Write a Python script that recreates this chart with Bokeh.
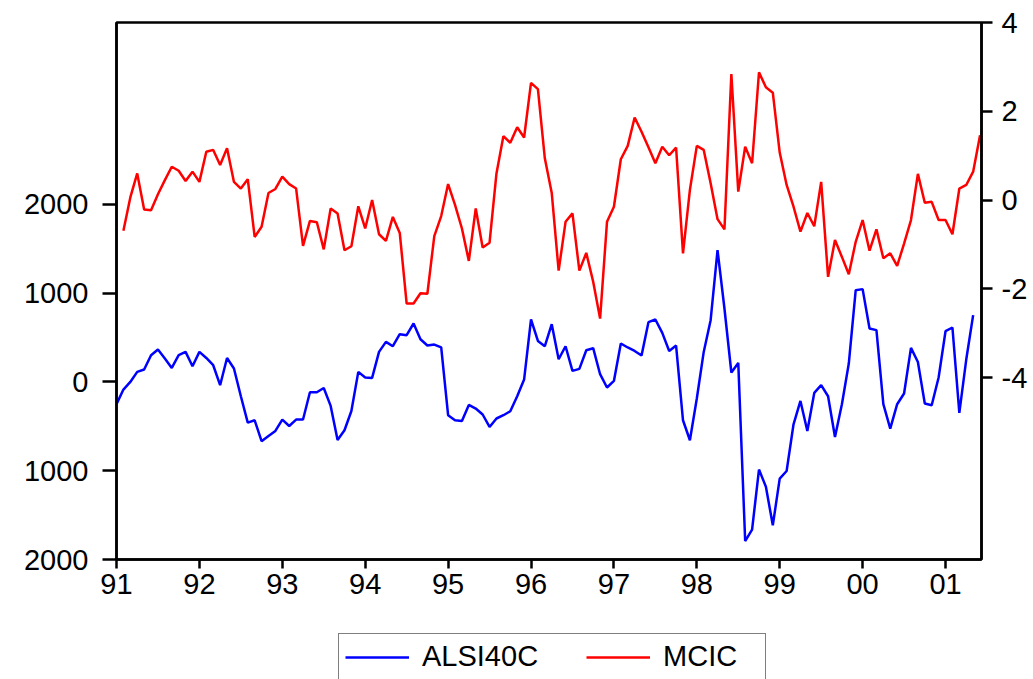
from bokeh.plotting import figure
from bokeh.models import Range1d, LinearAxis, FixedTicker, Legend, LegendItem
from bokeh.layouts import column
from bokeh.embed import file_html
from bokeh.resources import INLINE
import numpy as np

# ---- data (monthly) ----
alsi_start_month = 0     # Jan 1991
alsi40c = [
    -251, -86, 0, 113, 140, 301, 365, 264, 158, 301, 338, 177,
    338, 270, 188, -37, 270, 151, -161, -458, -432, -668, -608, -552,
    -424, -496, -424, -424, -116, -116, -68, -270, -653, -544, -327, 113,
    50, 45, 338, 451, 402, 538, 526, 658, 481, 410, 421, 388,
    -375, -432, -440, -259, -300, -367, -507, -412, -375, -330, -161, 27,
    703, 462, 402, 650, 255, 402, 124, 147, 357, 380, 87, -63,
    11, 433, 388, 349, 298, 673, 703, 552, 349, 410, -432, -657,
    -187, 338, 695, 1484, 827, 106, 214, -1792, -1663, -987, -1180, -1615,
    -1089, -1003, -477, -214, -552, -124, -37, -161, -620, -251, 207, 1033,
    1045, 602, 583, -251, -525, -251, -131, 383, 225, -243, -263, 50,
    571, 613, -349, 252, 752,
]
mcic_start_month = 1     # Feb 1991
mcic = [
    -0.69, 0.06, 0.60, -0.21, -0.23, 0.13, 0.45, 0.75, 0.66, 0.43, 0.64,
    0.41, 1.09, 1.13, 0.79, 1.17, 0.41, 0.26, 0.47, -0.83, -0.60, 0.16, 0.25,
    0.53, 0.36, 0.26, -1.03, -0.47, -0.50, -1.11, -0.19, -0.30, -1.13, -1.04, -0.14,
    -0.64, 0.00, -0.77, -0.92, -0.38, -0.74, -2.33, -2.33, -2.10, -2.11, -0.81, -0.36,
    0.36, -0.11, -0.64, -1.37, -0.19, -1.07, -0.96, 0.60, 1.44, 1.29, 1.64, 1.41,
    2.64, 2.50, 0.94, 0.16, -1.59, -0.49, -0.30, -1.59, -1.19, -1.84, -2.67, -0.49,
    -0.15, 0.92, 1.22, 1.86, 1.54, 1.19, 0.83, 1.20, 1.01, 1.18, -1.20, 0.23,
    1.22, 1.13, 0.38, -0.43, -0.66, 2.84, 0.19, 1.20, 0.83, 2.88, 2.54, 2.42,
    1.07, 0.34, -0.15, -0.71, -0.29, -0.59, 0.41, -1.73, -0.90, -1.28, -1.67, -0.94,
    -0.45, -1.14, -0.66, -1.31, -1.20, -1.48, -0.98, -0.45, 0.59, -0.06, -0.04, -0.45,
    -0.45, -0.77, 0.26, 0.34, 0.64, 1.46,
]
year_ticks = [1991, 1992, 1993, 1994, 1995, 1996, 1997, 1998, 1999, 2000, 2001]
year_labels = ["91", "92", "93", "94", "95", "96", "97", "98", "99", "00", "01"]
left_ticks = [-2000, -1000, 0, 1000, 2000]
left_labels = ["2000", "1000", "0", "1000", "2000"]
right_ticks = [-4, -2, 0, 2, 4]
right_labels = ["-4", "-2", "0", "2", "4"]
series_names = ["ALSI40C", "MCIC"]
series_colors = ["#0000FF", "#FF0000"]

x_alsi = 1991 + (alsi_start_month + np.arange(len(alsi40c))) / 12.0
x_mcic = 1991 + (mcic_start_month + np.arange(len(mcic))) / 12.0

FONT = "Liberation Sans"
FS = "29px"
LW = 2.5

p = figure(width=1033, height=620, output_backend="svg", toolbar_location=None,
           x_range=Range1d(1991, 2001.434), y_range=Range1d(-2000, 4048))
p.extra_y_ranges = {"right": Range1d(-8.096, 4)}
p.min_border_left = 116
p.min_border_right = 52
p.min_border_top = 22
p.min_border_bottom = 61
p.xgrid.visible = False
p.ygrid.visible = False
p.outline_line_color = "black"
p.outline_line_width = LW
p.outline_line_alpha = 1

p.line(x_alsi, alsi40c, line_color=series_colors[0], line_width=LW)
p.line(x_mcic, mcic, line_color=series_colors[1], line_width=LW, y_range_name="right")

def style(ax, tick_out):
    ax.axis_line_color = "black"
    ax.axis_line_width = LW
    ax.major_tick_line_color = "black"
    ax.major_tick_line_width = LW
    ax.major_tick_in = 0
    ax.major_tick_out = tick_out
    ax.minor_tick_line_color = None
    ax.major_label_text_font = FONT
    ax.major_label_text_font_size = FS
    ax.major_label_text_color = "black"

xa = p.xaxis[0]
xa.ticker = FixedTicker(ticks=year_ticks)
xa.major_label_overrides = {t: l for t, l in zip(year_ticks, year_labels)}
style(xa, 9)
xa.major_label_standoff = 5

ya = p.yaxis[0]
ya.ticker = FixedTicker(ticks=left_ticks)
ya.major_label_overrides = {t: l for t, l in zip(left_ticks, left_labels)}
style(ya, 14)
ya.major_label_standoff = 14

ra = LinearAxis(y_range_name="right", ticker=FixedTicker(ticks=right_ticks))
ra.major_label_overrides = {t: l for t, l in zip(right_ticks, right_labels)}
style(ra, 11)
ra.major_label_standoff = 9
p.add_layout(ra, "right")

# ---- legend strip below the chart (series drawn out of view, only the key shows) ----
q = figure(width=1033, height=59, output_backend="svg", toolbar_location=None,
           x_axis_location=None, y_axis_location=None,
           x_range=Range1d(0, 1), y_range=Range1d(0, 1))
q.min_border_left = 0
q.min_border_right = 0
q.min_border_top = 0
q.min_border_bottom = 0
q.xgrid.visible = False
q.ygrid.visible = False
q.outline_line_color = None
items = []
for name, col, xs, ys in zip(series_names, series_colors, [x_alsi, x_mcic], [alsi40c, mcic]):
    r = q.line(xs, ys, line_color=col, line_width=LW)
    items.append(LegendItem(label=name, renderers=[r]))
legend = Legend(items=items, orientation="horizontal", location=(222, -1))
legend.border_line_color = "black"
legend.border_line_width = 1.5
legend.background_fill_color = "white"
legend.background_fill_alpha = 1
legend.label_text_font = FONT
legend.label_text_font_size = FS
legend.label_text_color = "black"
legend.glyph_width = 64
legend.label_standoff = 13
legend.spacing = 48
legend.padding = 6
legend.label_width = 96
legend.margin = 0
q.add_layout(legend)

layout = column(p, q, spacing=0)
open("out.html", "w").write(file_html(layout, INLINE))
